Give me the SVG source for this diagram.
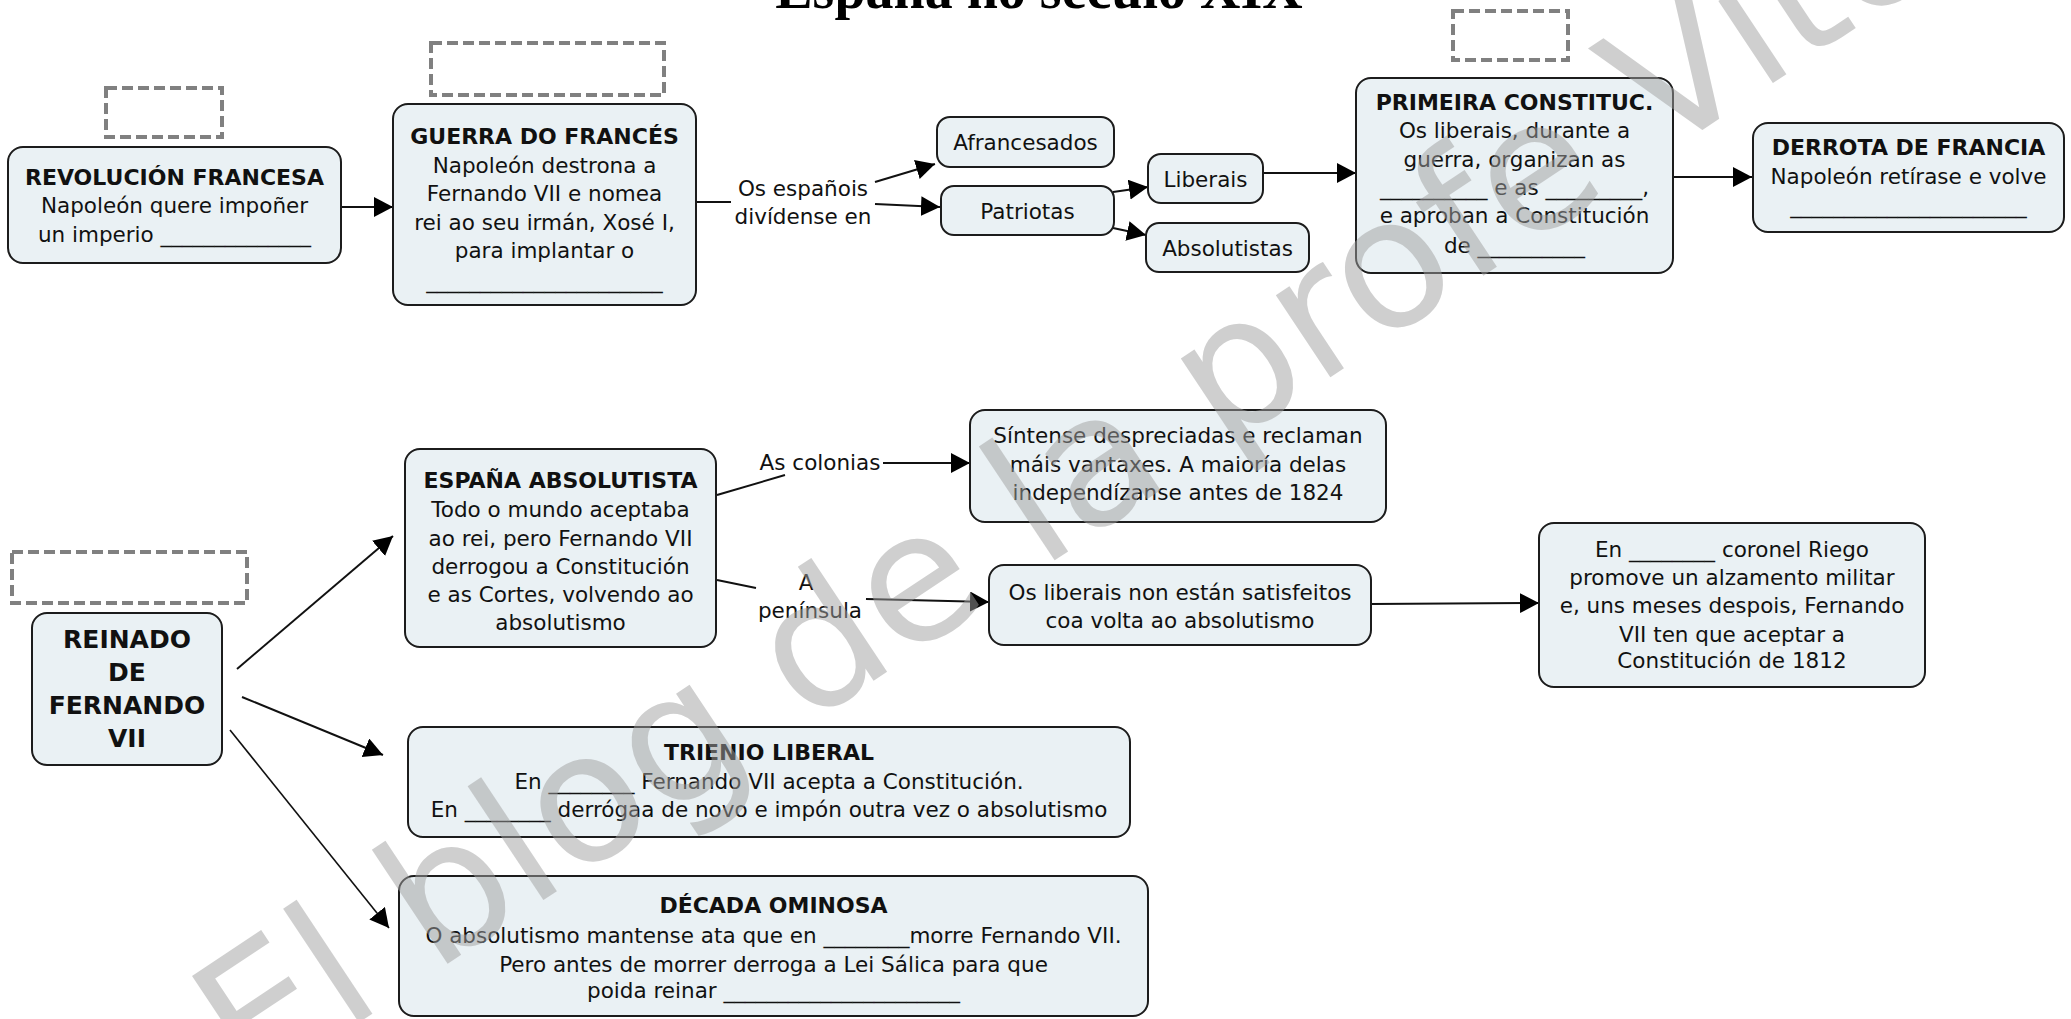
<svg xmlns="http://www.w3.org/2000/svg" width="2071" height="1019" viewBox="0 0 2071 1019">
<style>
.box{fill:#eaf1f4;stroke:#1c1c1c;stroke-width:2}
.dash{fill:none;stroke:#808080;stroke-width:4;stroke-dasharray:11 5}
.t{font-family:"DejaVu Sans",Verdana,sans-serif;font-size:21.5px;fill:#111;text-anchor:middle}
.b{font-weight:bold;font-size:22px}
.big{font-family:"DejaVu Sans",Verdana,sans-serif;font-size:25px;font-weight:bold;fill:#111;text-anchor:middle}
.lbl{font-family:"DejaVu Sans",Verdana,sans-serif;font-size:21.5px;fill:#111;text-anchor:middle}
.c{fill:none;stroke:#111;stroke-width:2}
.ca{fill:none;stroke:#111;stroke-width:2;marker-end:url(#ah)}
.title{font-family:"Liberation Serif","Times New Roman",serif;font-weight:bold;font-size:56px;fill:#000;text-anchor:middle}
.wm{font-family:"DejaVu Sans",Verdana,sans-serif;font-size:180px;fill:#a0a0a0;opacity:0.5}
</style>
<defs>
<marker id="ah" markerUnits="userSpaceOnUse" markerWidth="20" markerHeight="22" refX="19" refY="10" orient="auto">
<path d="M0,0 L19,10 L0,20 Z" fill="#000"/>
</marker>
</defs>
<rect width="2071" height="1019" fill="#fff"/>
<text class="title" x="1039" y="8">España no século XIX</text>

<g id="dashed">
<rect class="dash" x="106" y="88" width="116" height="49"/>
<rect class="dash" x="431" y="43" width="233" height="52"/>
<rect class="dash" x="1453" y="11" width="115" height="49"/>
<rect class="dash" x="12" y="552" width="235" height="51"/>
</g>

<g id="connectors">
<line class="ca" x1="341" y1="207" x2="393" y2="207"/>
<line class="c" x1="696" y1="202" x2="731" y2="202"/>
<line class="ca" x1="875" y1="182" x2="935" y2="164"/>
<line class="ca" x1="875" y1="204" x2="940" y2="207"/>
<line class="ca" x1="1113" y1="192" x2="1148" y2="187"/>
<line class="ca" x1="1113" y1="228" x2="1146" y2="235"/>
<line class="ca" x1="1263" y1="173" x2="1356" y2="173"/>
<line class="ca" x1="1673" y1="177" x2="1752" y2="177"/>
<line class="ca" x1="237" y1="669" x2="393" y2="536"/>
<line class="ca" x1="242" y1="697" x2="383" y2="755"/>
<line class="ca" x1="230" y1="730" x2="389" y2="928" style="stroke-width:1.6"/>
<line class="c" x1="717" y1="495" x2="785" y2="475"/>
<line class="ca" x1="883" y1="463" x2="970" y2="463"/>
<line class="c" x1="717" y1="580" x2="756" y2="588"/>
<line class="ca" x1="866" y1="599" x2="989" y2="602"/>
<line class="ca" x1="1371" y1="604" x2="1539" y2="603"/>
<text class="lbl" x="803" y="196">Os españois</text>
<text class="lbl" x="803" y="224">divídense en</text>
<text class="lbl" x="820" y="470">As colonias</text>
<text class="lbl" x="806" y="590">A</text>
<text class="lbl" x="810" y="618">península</text>
</g>

<g id="n-revolucion">
<rect class="box" x="8" y="147" width="333" height="116" rx="15"/>
<text class="t b" x="174.5" y="185">REVOLUCIÓN FRANCESA</text>
<text class="t" x="174.5" y="213">Napoleón quere impoñer</text>
<text class="t" x="174.5" y="242">un imperio ______________</text>
</g>

<g id="n-guerra">
<rect class="box" x="393" y="104" width="303" height="201" rx="15"/>
<text class="t b" x="544.5" y="144">GUERRA DO FRANCÉS</text>
<text class="t" x="544.5" y="173">Napoleón destrona a</text>
<text class="t" x="544.5" y="201">Fernando VII e nomea</text>
<text class="t" x="544.5" y="230">rei ao seu irmán, Xosé I,</text>
<text class="t" x="544.5" y="258">para implantar o</text>
<text class="t" x="544.5" y="288">______________________</text>
</g>

<g id="n-afrancesados">
<rect class="box" x="937" y="117" width="177" height="50" rx="13"/>
<text class="t" x="1025.5" y="150">Afrancesados</text>
</g>

<g id="n-patriotas">
<rect class="box" x="941" y="186" width="173" height="49" rx="13"/>
<text class="t" x="1027.5" y="219">Patriotas</text>
</g>

<g id="n-liberais">
<rect class="box" x="1148" y="154" width="115" height="49" rx="13"/>
<text class="t" x="1205.5" y="187">Liberais</text>
</g>

<g id="n-absolutistas">
<rect class="box" x="1146" y="223" width="163" height="49" rx="13"/>
<text class="t" x="1227.5" y="256">Absolutistas</text>
</g>

<g id="n-primeira">
<rect class="box" x="1356" y="78" width="317" height="195" rx="15"/>
<text class="t b" x="1514.5" y="110">PRIMEIRA CONSTITUC.</text>
<text class="t" x="1514.5" y="138">Os liberais, durante a</text>
<text class="t" x="1514.5" y="167">guerra, organizan as</text>
<text class="t" x="1514.5" y="195">__________ e as _________,</text>
<text class="t" x="1514.5" y="223">e aproban a Constitución</text>
<text class="t" x="1514.5" y="253">de __________</text>
</g>

<g id="n-derrota">
<rect class="box" x="1753" y="123" width="311" height="109" rx="15"/>
<text class="t b" x="1908.5" y="155">DERROTA DE FRANCIA</text>
<text class="t" x="1908.5" y="184">Napoleón retírase e volve</text>
<text class="t" x="1908.5" y="213">______________________</text>
</g>

<g id="n-reinado">
<rect class="box" x="32" y="613" width="190" height="152" rx="15"/>
<text class="big" x="127" y="648">REINADO</text>
<text class="big" x="127" y="681">DE</text>
<text class="big" x="127" y="714">FERNANDO</text>
<text class="big" x="127" y="747">VII</text>
</g>

<g id="n-espana">
<rect class="box" x="405" y="449" width="311" height="198" rx="15"/>
<text class="t b" x="560.5" y="488">ESPAÑA ABSOLUTISTA</text>
<text class="t" x="560.5" y="517">Todo o mundo aceptaba</text>
<text class="t" x="560.5" y="546">ao rei, pero Fernando VII</text>
<text class="t" x="560.5" y="574">derrogou a Constitución</text>
<text class="t" x="560.5" y="602">e as Cortes, volvendo ao</text>
<text class="t" x="560.5" y="630">absolutismo</text>
</g>

<g id="n-colonias">
<rect class="box" x="970" y="410" width="416" height="112" rx="15"/>
<text class="t" x="1178" y="443">Síntense despreciadas e reclaman</text>
<text class="t" x="1178" y="472">máis vantaxes. A maioría delas</text>
<text class="t" x="1178" y="500">independízanse antes de 1824</text>
</g>

<g id="n-liberais-insat">
<rect class="box" x="989" y="565" width="382" height="80" rx="15"/>
<text class="t" x="1180" y="600">Os liberais non están satisfeitos</text>
<text class="t" x="1180" y="628">coa volta ao absolutismo</text>
</g>

<g id="n-riego">
<rect class="box" x="1539" y="523" width="386" height="164" rx="15"/>
<text class="t" x="1732" y="557">En ________  coronel Riego</text>
<text class="t" x="1732" y="585">promove un alzamento militar</text>
<text class="t" x="1732" y="613">e, uns meses despois, Fernando</text>
<text class="t" x="1732" y="642">VII ten que aceptar a</text>
<text class="t" x="1732" y="668">Constitución de 1812</text>
</g>

<g id="n-trienio">
<rect class="box" x="408" y="727" width="722" height="110" rx="15"/>
<text class="t b" x="769" y="760">TRIENIO LIBERAL</text>
<text class="t" x="769" y="789">En ________ Fernando VII acepta a Constitución.</text>
<text class="t" x="769" y="817">En ________ derrógaa de novo e impón outra vez o absolutismo</text>
</g>

<g id="n-decada">
<rect class="box" x="399" y="876" width="749" height="140" rx="15"/>
<text class="t b" x="773.5" y="913">DÉCADA OMINOSA</text>
<text class="t" x="773.5" y="943">O absolutismo mantense ata que en ________morre Fernando VII.</text>
<text class="t" x="773.5" y="972">Pero antes de morrer derroga a Lei Sálica para que</text>
<text class="t" x="773.5" y="998">poida reinar ______________________</text>
</g>

<text class="wm" transform="translate(250,1095) rotate(-33.6)">El blog de la profe Vito</text>
</svg>
